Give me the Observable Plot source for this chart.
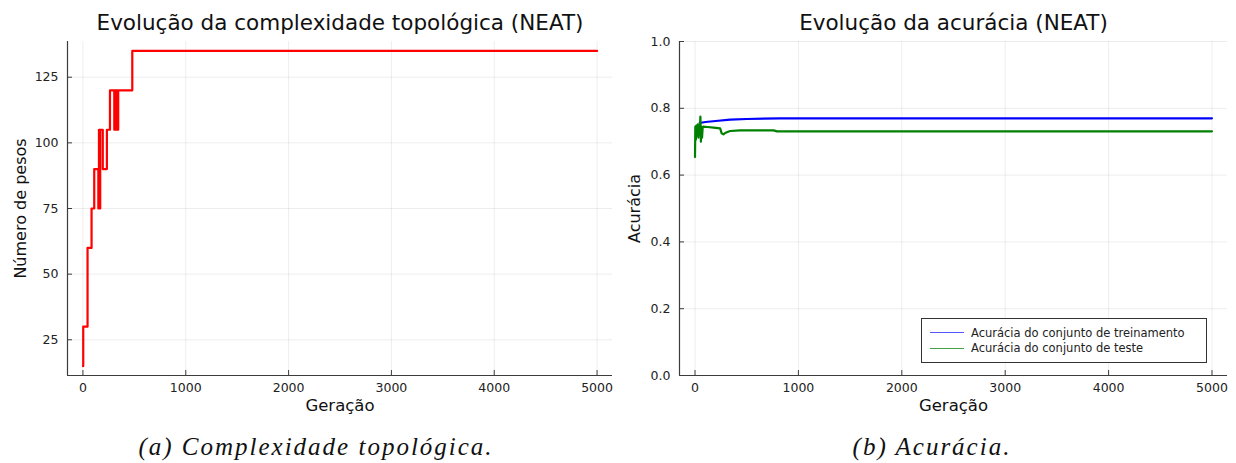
<!DOCTYPE html>
<html>
<head>
<meta charset="utf-8">
<script src="https://cdn.jsdelivr.net/npm/d3@7"></script>
<script src="https://cdn.jsdelivr.net/npm/@observablehq/plot@0.6"></script>
<style>
  body { margin: 0; background: #fff; }
  #fig { position: relative; width: 1236px; height: 463px; font-family: "DejaVu Sans", sans-serif; }
  .panel { position: absolute; top: 0; }
  .caption { position: absolute; top: 433px; font-family: "Liberation Serif", serif; font-style: italic;
             font-size: 25px; letter-spacing: 2px; color: #111; transform: translateX(-50%); white-space: nowrap; }
  .legend { position: absolute; left: 921px; top: 318px; width: 286px; height: 45px; box-sizing: border-box;
            border: 1px solid #333; background: #fff; font-size: 11.5px; color: #222; padding-top: 6px; }
  .legend .row { display: flex; align-items: center; height: 15.5px; }
  .legend .sw { width: 34px; height: 0; margin: 0 7px 0 8px; border-top: 1.3px solid; }
</style>
</head>
<body>
<div id="fig"></div>
<script>
// Número de pesos da rede ao longo das gerações (desenhado em degraus)
const geracoesPesos = [0, 3, 45, 84, 110, 150, 156, 162, 168, 193, 233, 263, 305, 312, 320, 328, 336, 343, 480, 5000];
const numeroPesos   = [15, 30, 60, 75, 90, 75, 105, 75, 105, 90, 105, 120, 105, 120, 105, 120, 105, 120, 135, 135];

// Acurácia do conjunto de treinamento
const geracoesTreino = [45, 100, 200, 340, 500, 825, 5000];
const acuraciaTreino = [0.756, 0.759, 0.762, 0.766, 0.768, 0.770, 0.770];

// Acurácia do conjunto de teste
const geracoesTeste = [0, 3, 8, 14, 20, 27, 33, 40, 47, 52, 57, 62, 68, 74, 80, 120, 180, 243, 258, 275, 291, 320, 340, 437, 760, 793, 5000];
const acuraciaTeste = [0.654, 0.745, 0.706, 0.748, 0.718, 0.752, 0.712, 0.748, 0.735, 0.775, 0.700, 0.745, 0.712, 0.742, 0.745, 0.744, 0.742, 0.740, 0.725, 0.722, 0.726, 0.730, 0.732, 0.734, 0.734, 0.731, 0.731];

// Marcas dos eixos
const ticksGeracao = [0, 1000, 2000, 3000, 4000, 5000];
const ticksPesos = [25, 50, 75, 100, 125];
const ticksAcuracia = [0, 0.2, 0.4, 0.6, 0.8, 1.0];

const axisColor = "#3c3c3c";
const textColor = "#222";
const gridStyle = {stroke: "#000", strokeOpacity: 0.09, strokeWidth: 0.8};

// Painel com eixos no estilo "caixa aberta": grade clara, ticks para dentro
function painel({width, height, margin, xDomain, yDomain, yTicks, yFormat, title, xLabel, yLabel, yLabelDx, marks}) {
  const innerW = width - margin.left - margin.right;
  const innerH = height - margin.top - margin.bottom;
  return Plot.plot({
    width, height,
    marginLeft: margin.left, marginRight: margin.right, marginTop: margin.top, marginBottom: margin.bottom,
    style: {fontFamily: "'DejaVu Sans', sans-serif", color: textColor, background: "transparent", overflow: "visible"},
    x: {domain: xDomain},
    y: {domain: yDomain},
    marks: [
      Plot.gridX(ticksGeracao, gridStyle),
      Plot.gridY(yTicks, gridStyle),
      ...marks,
      Plot.ruleX([xDomain[0]], {stroke: axisColor, strokeWidth: 1.2}),
      Plot.ruleY([yDomain[0]], {stroke: axisColor, strokeWidth: 1.2}),
      Plot.tickX(ticksGeracao, {x: d => d, insetTop: innerH - 5, stroke: axisColor, strokeWidth: 1}),
      Plot.tickY(yTicks, {y: d => d, insetRight: innerW - 5, stroke: axisColor, strokeWidth: 1}),
      Plot.axisX(ticksGeracao, {tickSize: 0, tickPadding: 8, fontSize: 12.5, label: null, fill: textColor, tickFormat: d => String(d)}),
      Plot.axisY(yTicks, {tickSize: 0, tickPadding: 9, fontSize: 12.5, label: null, fill: textColor, tickFormat: yFormat}),
      Plot.text([title], {text: d => d, frameAnchor: "top", dy: -27, fontSize: 21.5, fill: "#111"}),
      Plot.text([xLabel], {text: d => d, frameAnchor: "bottom", dy: 35, fontSize: 16.5, fill: "#111"}),
      Plot.text([yLabel], {text: d => d, frameAnchor: "left", textAnchor: "middle", rotate: -90, dx: yLabelDx, fontSize: 16, fill: "#111"})
    ]
  });
}

const pesos = geracoesPesos.map((g, i) => ({geracao: g, pesos: numeroPesos[i]}));
const treino = geracoesTreino.map((g, i) => ({geracao: g, acuracia: acuraciaTreino[i]}));
const teste = geracoesTeste.map((g, i) => ({geracao: g, acuracia: acuraciaTeste[i]}));

const esquerda = painel({
  width: 618, height: 420,
  margin: {left: 67, right: 6, top: 41, bottom: 45},
  xDomain: [-150, 5150], yDomain: [11.4, 138.6],
  yTicks: ticksPesos, yFormat: d => String(d),
  title: "Evolução da complexidade topológica (NEAT)",
  xLabel: "Geração", yLabel: "Número de pesos", yLabelDx: -47,
  marks: [
    Plot.line(pesos, {x: "geracao", y: "pesos", curve: "step-after", stroke: "#ff0000", strokeWidth: 2.2})
  ]
});

const direita = painel({
  width: 618, height: 420,
  margin: {left: 61, right: 9, top: 41, bottom: 45},
  xDomain: [-150, 5150], yDomain: [0, 1],
  yTicks: ticksAcuracia, yFormat: d => d.toFixed(1),
  title: "Evolução da acurácia (NEAT)",
  xLabel: "Geração", yLabel: "Acurácia", yLabelDx: -45,
  marks: [
    Plot.line(treino, {x: "geracao", y: "acuracia", stroke: "#0000ff", strokeWidth: 2.2}),
    Plot.line(teste, {x: "geracao", y: "acuracia", stroke: "#008000", strokeWidth: 2.2})
  ]
});

const fig = document.getElementById("fig");
esquerda.classList.add("panel"); esquerda.style.left = "0px";
direita.classList.add("panel"); direita.style.left = "618px";
fig.append(esquerda, direita);

// Legenda do painel de acurácia
const legenda = document.createElement("div");
legenda.className = "legend";
[["Acurácia do conjunto de treinamento", "#5555ff"], ["Acurácia do conjunto de teste", "#44a044"]].forEach(([nome, cor]) => {
  const row = document.createElement("div");
  row.className = "row";
  const sw = document.createElement("span");
  sw.className = "sw"; sw.style.borderColor = cor;
  const t = document.createElement("span");
  t.textContent = nome;
  row.append(sw, t);
  legenda.append(row);
});
fig.append(legenda);

// Legendas das figuras
[["(a) Complexidade topológica.", 316], ["(b) Acurácia.", 932]].forEach(([texto, cx]) => {
  const c = document.createElement("div");
  c.className = "caption";
  c.style.left = cx + "px";
  c.textContent = texto;
  fig.append(c);
});
</script>
</body>
</html>
